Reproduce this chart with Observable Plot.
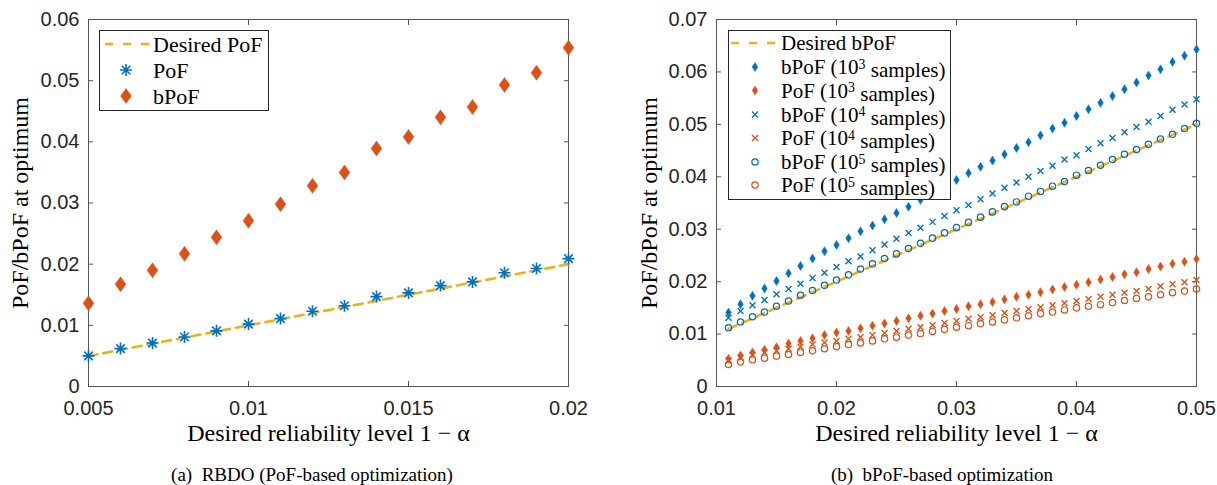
<!DOCTYPE html>
<html><head><meta charset="utf-8">
<script src="https://cdn.jsdelivr.net/npm/d3@7"></script>
<script src="https://cdn.jsdelivr.net/npm/@observablehq/plot@0.6"></script>
<style>
body{margin:0;background:#fff;}
#wrap{position:relative;width:1217px;height:485px;overflow:hidden;background:#fff;}
.panel{position:absolute;top:0;}
.cap{position:absolute;top:465px;font-family:"Liberation Serif",serif;font-size:19px;color:#000;text-align:center;line-height:20px;}
.legend{position:absolute;}
</style></head><body><div id="wrap"></div>
<script>
// ---------- Panel (a) data ----------
const xA = [0.005,0.006,0.007,0.008,0.009,0.010,0.011,0.012,0.013,0.014,0.015,0.016,0.017,0.018,0.019,0.020];
const pofA = [0.0050,0.0062,0.0071,0.0081,0.0091,0.0102,0.0111,0.0123,0.0132,0.0147,0.0153,0.0165,0.0171,0.0186,0.0193,0.0209];
const bpofA = [0.0136,0.0167,0.0190,0.0217,0.0244,0.0271,0.0298,0.0328,0.0350,0.0389,0.0408,0.0440,0.0457,0.0493,0.0513,0.0554];
const desiredA = [0.005, 0.020];
const xTicksA = [0.005,0.01,0.015,0.02];
const yTicksA = [0,0.01,0.02,0.03,0.04,0.05,0.06];

// ---------- Panel (b) data ----------
const xB = [0.011,0.012,0.013,0.014,0.015,0.016,0.017,0.018,0.019,0.020,
            0.021,0.022,0.023,0.024,0.025,0.026,0.027,0.028,0.029,0.030,
            0.031,0.032,0.033,0.034,0.035,0.036,0.037,0.038,0.039,0.040,
            0.041,0.042,0.043,0.044,0.045,0.046,0.047,0.048,0.049,0.050];
const bpof1e3 = [0.0141,0.0157,0.0173,0.0187,0.0201,0.0216,0.0230,0.0244,0.0258,0.0270,
                 0.0283,0.0296,0.0307,0.0319,0.0331,0.0343,0.0356,0.0369,0.0381,0.0394,
                 0.0407,0.0419,0.0431,0.0443,0.0455,0.0466,0.0479,0.0492,0.0503,0.0516,
                 0.0529,0.0541,0.0554,0.0567,0.0580,0.0593,0.0605,0.0619,0.0631,0.0643];
const pof1e3 = [0.0053,0.0059,0.0065,0.0070,0.0075,0.0082,0.0087,0.0092,0.0098,0.0103,
                0.0106,0.0111,0.0116,0.0120,0.0125,0.0130,0.0135,0.0139,0.0144,0.0148,
                0.0153,0.0157,0.0161,0.0166,0.0171,0.0175,0.0180,0.0185,0.0190,0.0194,
                0.0199,0.0204,0.0209,0.0214,0.0218,0.0224,0.0229,0.0234,0.0238,0.0243];
const bpof1e4 = [0.0131,0.0144,0.0155,0.0165,0.0176,0.0186,0.0196,0.0207,0.0217,0.0228,
                 0.0239,0.0248,0.0260,0.0271,0.0282,0.0293,0.0303,0.0314,0.0325,0.0336,
                 0.0346,0.0357,0.0368,0.0379,0.0389,0.0400,0.0411,0.0421,0.0433,0.0441,
                 0.0453,0.0464,0.0474,0.0485,0.0495,0.0505,0.0516,0.0528,0.0538,0.0548];
const pof1e4 = [0.0049,0.0055,0.0060,0.0065,0.0068,0.0072,0.0076,0.0080,0.0084,0.0087,
                0.0091,0.0094,0.0098,0.0102,0.0106,0.0110,0.0113,0.0117,0.0121,0.0125,
                0.0129,0.0132,0.0136,0.0140,0.0144,0.0148,0.0151,0.0155,0.0159,0.0163,
                0.0167,0.0171,0.0175,0.0179,0.0182,0.0186,0.0191,0.0195,0.0199,0.0203];
const bpof1e5 = [0.0112,0.0123,0.0133,0.0142,0.0153,0.0163,0.0174,0.0183,0.0193,0.0203,
                 0.0213,0.0224,0.0234,0.0244,0.0253,0.0263,0.0273,0.0283,0.0293,0.0303,
                 0.0313,0.0323,0.0333,0.0343,0.0352,0.0363,0.0372,0.0382,0.0391,0.0403,
                 0.0412,0.0422,0.0433,0.0443,0.0452,0.0462,0.0472,0.0481,0.0492,0.0502];
const pof1e5 = [0.0042,0.0047,0.0051,0.0054,0.0058,0.0061,0.0065,0.0068,0.0072,0.0076,
                0.0080,0.0083,0.0087,0.0091,0.0094,0.0098,0.0101,0.0105,0.0109,0.0113,
                0.0116,0.0120,0.0123,0.0127,0.0131,0.0135,0.0139,0.0142,0.0146,0.0150,
                0.0153,0.0156,0.0160,0.0164,0.0168,0.0171,0.0175,0.0179,0.0182,0.0186];
const desiredB = [0.011, 0.050];
const xTicksB = [0.01,0.02,0.03,0.04,0.05];
const yTicksB = [0,0.01,0.02,0.03,0.04,0.05,0.06,0.07];

// ---------- text ----------
const xLabel = "Desired reliability level 1 \u2212 \u03b1";
const yLabel = "PoF/bPoF at optimum";
const captionA = "(a)\u00a0 RBDO (PoF-based optimization)";
const captionB = "(b)\u00a0 bPoF-based optimization";
const legendA = [["Desired PoF"],["PoF"],["bPoF"]];
const legendB = [["Desired bPoF"],["bPoF (10","3"," samples)"],["PoF (10","3"," samples)"],["bPoF (10","4"," samples)"],["PoF (10","4"," samples)"],["bPoF (10","5"," samples)"],["PoF (10","5"," samples)"]];

// ---------- style ----------
const BLUE = "#0072BD", ORANGE = "#D95319", YELLOW = "#EDB120", AX = "#262626", FRAME = "#555";
const SANS = "Liberation Sans, Arial, sans-serif";
const SERIF = "Liberation Serif, Times New Roman, serif";

// custom MATLAB-like symbols
const asterisk = {draw(c, s){const r=Math.sqrt(s/Math.PI), d=r*Math.SQRT1_2;
  c.moveTo(-r,0);c.lineTo(r,0);c.moveTo(0,-r);c.lineTo(0,r);
  c.moveTo(-d,-d);c.lineTo(d,d);c.moveTo(-d,d);c.lineTo(d,-d);}};
const diamond = ratio => ({draw(c, s){const r=Math.sqrt(s/Math.PI), w=r*ratio;
  c.moveTo(0,-r);c.lineTo(w,0);c.lineTo(0,r);c.lineTo(-w,0);c.closePath();}});
const cross = {draw(c, s){const r=Math.sqrt(s/Math.PI);
  c.moveTo(-r,-r);c.lineTo(r,r);c.moveTo(-r,r);c.lineTo(r,-r);}};
const ring = {draw(c, s){const r=Math.sqrt(s/Math.PI); c.moveTo(r,0); c.arc(0,0,r,0,2*Math.PI);}};
const bigDiamond = diamond(0.72), smallDiamond = diamond(0.62);

const fmt = d => d3.format("~g")(d);

function axes(xt, yt, ydx){
  return [
    Plot.axisX(xt, {anchor:"bottom", tickSize:0, tickPadding:14, tickFormat:fmt, label:null, fontSize:20, fontFamily:SANS, fill:AX}),
    Plot.axisX(xt, {anchor:"bottom", tickSize:5, dy:-5, fill:"none", stroke:FRAME, label:null}),
    Plot.axisX(xt, {anchor:"top", tickSize:5, dy:5, fill:"none", stroke:FRAME, label:null}),
    Plot.axisY(yt, {anchor:"left", tickSize:0, tickPadding:9, tickFormat:fmt, label:null, fontSize:20, fontFamily:SANS, fill:AX}),
    Plot.axisY(yt, {anchor:"left", tickSize:5, dx:5, fill:"none", stroke:FRAME, label:null}),
    Plot.axisY(yt, {anchor:"right", tickSize:5, dx:-5, fill:"none", stroke:FRAME, label:null}),
    Plot.frame({stroke:FRAME}),
    Plot.text([xLabel], {frameAnchor:"bottom", dy:47, fontSize:24, fontFamily:SERIF, fill:"#000", lineAnchor:"middle", textAnchor:"middle"}),
    Plot.text([yLabel], {frameAnchor:"left", dx:ydx, rotate:-90, fontSize:24, fontFamily:SERIF, fill:"#000", lineAnchor:"middle", textAnchor:"middle"}),
  ];
}

const wrap = d3.select("#wrap");

// ---------- Panel (a) ----------
const plotA = Plot.plot({
  width:610, height:450, marginLeft:88, marginRight:42, marginTop:19, marginBottom:64,
  style:{background:"transparent", overflow:"visible"},
  x:{domain:[0.005,0.02]}, y:{domain:[0,0.06]},
  marks:[
    ...axes(xTicksA, yTicksA, -68),
    Plot.line(desiredA, {x:d=>d, y:d=>d, stroke:YELLOW, strokeWidth:2.6, strokeDasharray:"9,6"}),
    Plot.dot(xA, {x:d=>d, y:(d,i)=>pofA[i], symbol:asterisk, r:6, stroke:BLUE, strokeWidth:1.6, fill:"none"}),
    Plot.dot(xA, {x:d=>d, y:(d,i)=>bpofA[i], symbol:bigDiamond, r:7.5, fill:ORANGE, stroke:ORANGE, strokeWidth:0.5}),
  ]
});
wrap.append(() => plotA).attr("class","panel").style("left","0px");

// ---------- Panel (b) ----------
const plotB = Plot.plot({
  width:607, height:450, marginLeft:106, marginRight:21, marginTop:19, marginBottom:64,
  style:{background:"transparent", overflow:"visible"},
  x:{domain:[0.01,0.05]}, y:{domain:[0,0.07]},
  marks:[
    ...axes(xTicksB, yTicksB, -67),
    Plot.line(desiredB, {x:d=>d, y:d=>d, stroke:YELLOW, strokeWidth:2.6, strokeDasharray:"9,6"}),
    Plot.dot(xB, {x:d=>d, y:(d,i)=>bpof1e3[i], symbol:smallDiamond, r:4.5, fill:BLUE, stroke:BLUE, strokeWidth:0.5}),
    Plot.dot(xB, {x:d=>d, y:(d,i)=>pof1e3[i], symbol:smallDiamond, r:4.5, fill:ORANGE, stroke:ORANGE, strokeWidth:0.5}),
    Plot.dot(xB, {x:d=>d, y:(d,i)=>bpof1e4[i], symbol:cross, r:3, stroke:BLUE, strokeWidth:1.4, fill:"none"}),
    Plot.dot(xB, {x:d=>d, y:(d,i)=>pof1e4[i], symbol:cross, r:3, stroke:ORANGE, strokeWidth:1.4, fill:"none"}),
    Plot.dot(xB, {x:d=>d, y:(d,i)=>bpof1e5[i], symbol:ring, r:3.2, stroke:BLUE, strokeWidth:1.2, fill:"none"}),
    Plot.dot(xB, {x:d=>d, y:(d,i)=>pof1e5[i], symbol:ring, r:3.2, stroke:ORANGE, strokeWidth:1.2, fill:"none"}),
  ]
});
wrap.append(() => plotB).attr("class","panel").style("left","610px");

// ---------- legends ----------
function symPath(sym, r){ const p = d3.path(); sym.draw(p, Math.PI*r*r); return p.toString(); }
function legend(left, top, w, h, rows, rowY, lineX, markX, textX, fontSize, items){
  const svg = wrap.append("svg").attr("class","legend").style("left",left+"px").style("top",top+"px")
    .attr("width",w).attr("height",h);
  svg.append("rect").attr("x",0.5).attr("y",0.5).attr("width",w-1).attr("height",h-1)
    .attr("fill","#fff").attr("stroke",AX).attr("stroke-width",1);
  rows.forEach((parts, i) => {
    const y = rowY[i], it = items[i];
    if (it.line) svg.append("line").attr("x1",lineX[0]).attr("x2",lineX[1]).attr("y1",y).attr("y2",y)
      .attr("stroke",YELLOW).attr("stroke-width",2.6).attr("stroke-dasharray","8,10");
    else svg.append("path").attr("d",symPath(it.sym,it.r)).attr("transform",`translate(${markX},${y})`)
      .attr("fill",it.fill).attr("stroke",it.stroke).attr("stroke-width",it.sw);
    const t = svg.append("text").attr("x",textX).attr("y",y).attr("dy","0.35em")
      .attr("font-family",SERIF).attr("font-size",fontSize).attr("fill","#000");
    t.append("tspan").text(parts[0]);
    if (parts.length > 1){
      t.append("tspan").attr("dy","-0.4em").attr("font-size",fontSize*0.66).text(parts[1]);
      t.append("tspan").attr("dy","0.4em").text(parts[2]);
    }
  });
}
legend(99, 30, 170, 81, legendA, [14,40,66], [6,50], 27, 54, 22, [
  {line:true},
  {sym:asterisk, r:6, fill:"none", stroke:BLUE, sw:1.6},
  {sym:bigDiamond, r:7.5, fill:ORANGE, stroke:ORANGE, sw:0.5}
]);
legend(728, 30, 223, 170, legendB, [13,37,60.5,84.5,108,132,155], [3,49], 27, 53, 21, [
  {line:true},
  {sym:smallDiamond, r:4.5, fill:BLUE, stroke:BLUE, sw:0.5},
  {sym:smallDiamond, r:4.5, fill:ORANGE, stroke:ORANGE, sw:0.5},
  {sym:cross, r:3, fill:"none", stroke:BLUE, sw:1.4},
  {sym:cross, r:3, fill:"none", stroke:ORANGE, sw:1.4},
  {sym:ring, r:3.2, fill:"none", stroke:BLUE, sw:1.2},
  {sym:ring, r:3.2, fill:"none", stroke:ORANGE, sw:1.2}
]);

// ---------- captions ----------
wrap.append("div").attr("class","cap").style("left","0px").style("width","624px").text(captionA);
wrap.append("div").attr("class","cap").style("left","642px").style("width","600px").text(captionB);
</script></body></html>
